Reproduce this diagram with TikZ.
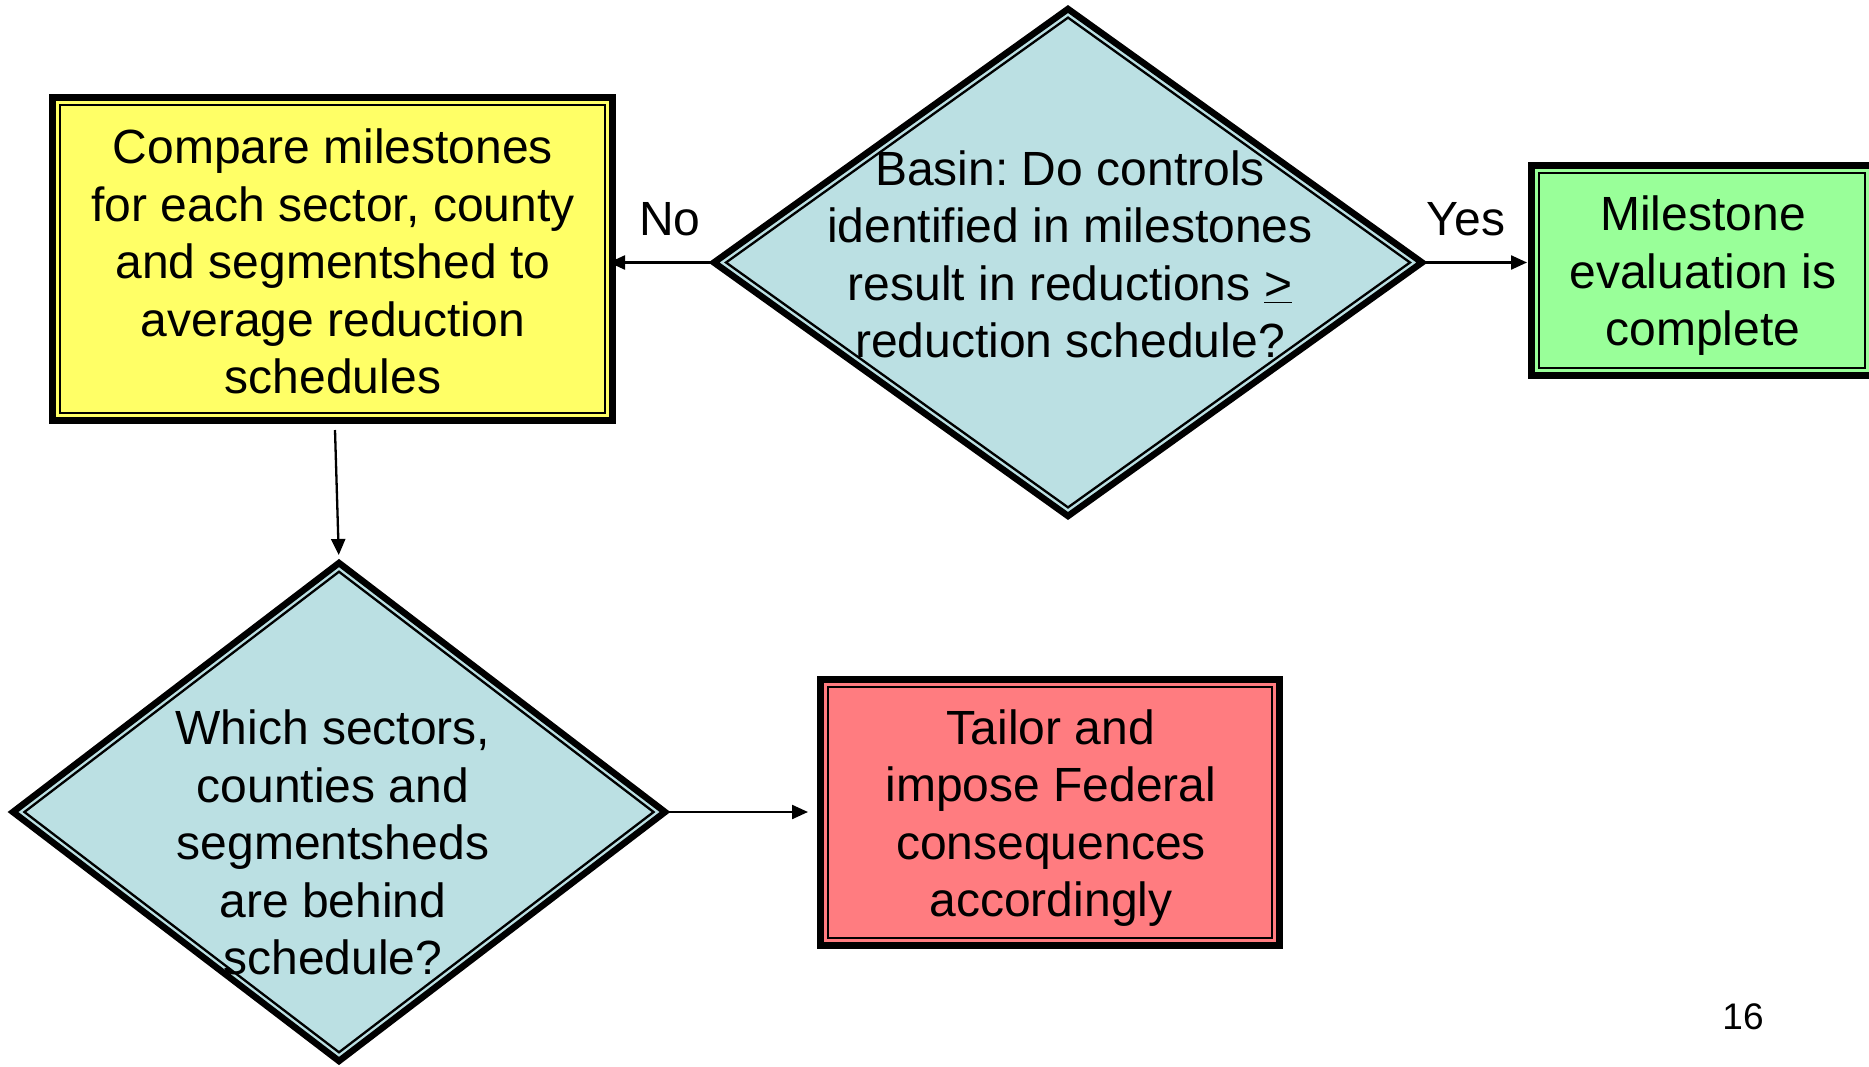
\documentclass[tikz,border=0pt]{standalone}
\usepackage{fontspec}
\setmainfont{Liberation Sans}
\frenchspacing
\usetikzlibrary{shapes.geometric,arrows.meta,calc}
\definecolor{boxyellow}{HTML}{FFFF66}
\definecolor{boxblue}{HTML}{BBE0E3}
\definecolor{boxgreen}{HTML}{99FF99}
\definecolor{boxred}{HTML}{FF7C80}
\begin{document}
\begin{tikzpicture}[x=1pt,y=-1pt,
  outerbox/.style={draw=black,line width=7pt,outer sep=0pt,inner sep=0pt,rectangle},
  dia/.style={draw=black,line width=6.5pt,outer sep=0pt,inner sep=0pt,diamond},
  innerline/.style={draw=black,line width=2.3pt},
  lbl/.style={font=\fontsize{48}{57.5}\selectfont,align=center,text=black,inner sep=0pt},
  conn/.style={line width=2.3pt,-{Triangle[length=16pt,width=14pt]}},
]
\useasboundingbox (0,0) rectangle (1869,1066);

% yellow box
\node[outerbox,fill=boxyellow,minimum width=560pt,minimum height=323pt] (yb) at (332.5,259) {};
\draw[innerline] ($(yb.north west)+(7.2,7.2)$) rectangle ($(yb.south east)+(-7.2,-7.2)$);
\node[lbl] (yt) at (333,261.5) {Compare milestones\\for each sector, county\\and segmentshed to\\average reduction\\schedules};

% top diamond
\node[dia,fill=boxblue,minimum width=708pt,minimum height=507pt] (d1) at (1068,262.5) {};
\draw[innerline] ($(d1.center)!0.966!(d1.north)$) -- ($(d1.center)!0.966!(d1.east)$) -- ($(d1.center)!0.966!(d1.south)$) -- ($(d1.center)!0.966!(d1.west)$) -- cycle;
\node[lbl] (d1t) at (1070,254.5) {Basin: Do controls\\identified in milestones\\result in reductions \underline{>}\\reduction schedule?};

% green box
\node[outerbox,fill=boxgreen,minimum width=341pt,minimum height=210pt] (gb) at (1702,270.5) {};
\draw[innerline] ($(gb.north west)+(7.2,7.2)$) rectangle ($(gb.south east)+(-7.2,-7.2)$);
\node[lbl] (gt) at (1703,276) {Milestone\\evaluation is\\complete};

% bottom diamond
\node[dia,fill=boxblue,minimum width=652pt,minimum height=498pt] (d2) at (339,812) {};
\draw[innerline] ($(d2.center)!0.965!(d2.north)$) -- ($(d2.center)!0.965!(d2.east)$) -- ($(d2.center)!0.965!(d2.south)$) -- ($(d2.center)!0.965!(d2.west)$) -- cycle;
\node[lbl] (d2t) at (333,842.5) {Which sectors,\\counties and\\segmentsheds\\are behind\\schedule?};

% red box
\node[outerbox,fill=boxred,minimum width=459pt,minimum height=266pt] (rb) at (1050,812.5) {};
\draw[innerline] ($(rb.north west)+(7.2,7.2)$) rectangle ($(rb.south east)+(-7.2,-7.2)$);
\node[lbl] (rt) at (1051,818) {Tailor and\\impose Federal\\consequences\\accordingly};

% connectors
\draw[conn,shorten >=-3.5pt] (d1.west) -- (d1.west -| yb.east);
\draw[conn,shorten >=4.5pt] (d1.east) -- (d1.east -| gb.west);
\coordinate (ystart) at ($(yb.south)+(2.5,9.5)$);
\draw[conn,shorten >=8pt] (ystart) -- (d2.north);
\draw[conn,shorten >=12.5pt] (d2.east) -- (d2.east -| rb.west);

% labels
\node[lbl] (no) at (670,219) {No};
\node[lbl] (yes) at (1466,219) {Yes};
\node[font=\fontsize{37}{44}\selectfont,inner sep=0pt] (pg) at (1743,1017) {16};
\end{tikzpicture}
\end{document}
